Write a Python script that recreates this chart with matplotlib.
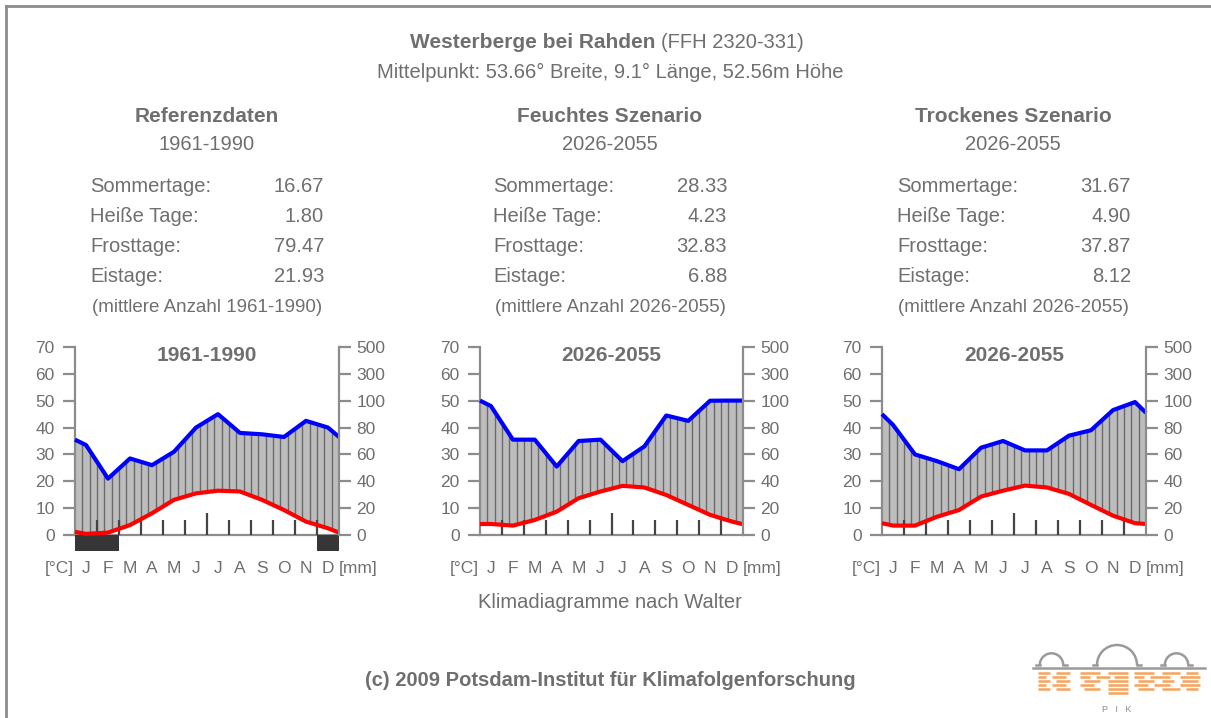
import numpy as np
import matplotlib
matplotlib.use("Agg")
import matplotlib.pyplot as plt
from matplotlib.lines import Line2D
from matplotlib.patches import Arc

plt.rcParams['font.family'] = ['Liberation Sans', 'DejaVu Sans']

# ---- data ----
months = ['J', 'F', 'M', 'A', 'M', 'J', 'J', 'A', 'S', 'O', 'N', 'D']

site = "Westerberge bei Rahden"
site_code = "(FFH 2320-331)"
subtitle = "Mittelpunkt: 53.66° Breite, 9.1° Länge, 52.56m Höhe"

col_heads = ["Referenzdaten", "Feuchtes Szenario", "Trockenes Szenario"]
col_periods = ["1961-1990", "2026-2055", "2026-2055"]
stat_names = ["Sommertage:", "Heiße Tage:", "Frosttage:", "Eistage:"]
stat_ref = ["16.67", "1.80", "79.47", "21.93"]
stat_wet = ["28.33", "4.23", "32.83", "6.88"]
stat_dry = ["31.67", "4.90", "37.87", "8.12"]

# monthly mean temperature (°C), plus values at the Jan / Dec edges
ref_temp = [0.4, 0.9, 3.7, 8.1, 13.1, 15.5, 16.5, 16.2, 13.1, 9.3, 5.0, 2.5]
ref_temp_edges = [1.2, 0.9]
wet_temp = [4.1, 3.5, 5.6, 8.7, 13.7, 16.2, 18.3, 17.7, 14.9, 11.2, 7.5, 5.0]
wet_temp_edges = [4.1, 4.0]
dry_temp = [3.5, 3.5, 6.8, 9.3, 14.3, 16.5, 18.4, 17.7, 15.3, 11.2, 7.2, 4.4]
dry_temp_edges = [4.4, 4.1]

# monthly precipitation (mm), plus edge values
ref_prec = [67, 42, 57, 52, 62, 80, 90, 76, 75, 73, 85, 80]
ref_prec_edges = [71, 73]
wet_prec = [96, 71, 71, 51, 70, 71, 55, 66, 89, 85, 100, 101]
wet_prec_edges = [101, 101]
dry_prec = [82, 60, 55, 49, 65, 70, 63, 63, 74, 78, 93, 99]
dry_prec_edges = [90, 91]

# months with frost (dark bar below the axis)
ref_frost = [1, 1, 0, 0, 0, 0, 0, 0, 0, 0, 0, 1]
wet_frost = [0] * 12
dry_frost = [0] * 12

temp_ticks = [0, 10, 20, 30, 40, 50, 60, 70]
prec_labels = ['0', '20', '40', '60', '80', '100', '300', '500']

W, H = 1211, 718
TXT = '#6f6f6f'
AX = '#8c8c8c'


def prec_to_scale(mm):
    # Walter scale: 10 °C = 20 mm up to 100 mm, then 10 °C = 200 mm
    mm = np.asarray(mm, dtype=float)
    return np.where(mm <= 100, mm / 2.0, 50 + (mm - 100) / 20.0)


def ftext(x, y, s, **kw):
    kw.setdefault('color', TXT)
    kw.setdefault('va', 'center')
    kw.setdefault('fontsize', 14.5)
    fig.text(x / W, 1 - y / H, s, **kw)


def walter(left, right, title, temp, temp_e, prec, prec_e, frost):
    ax = fig.add_axes([left / W, 1 - 535 / H, (right - left) / W, 188 / H])
    x = np.r_[0, np.arange(12) + 0.5, 12]
    t = np.r_[temp_e[0], temp, temp_e[1]]
    p = prec_to_scale(np.r_[prec_e[0], prec, prec_e[1]])

    poly = ax.fill_between(x, t, p, where=p >= t, interpolate=True,
                           color='#bdbdbd', lw=0, zorder=1)
    hatch = ax.vlines(np.arange(1, 36) / 3.0, 0, 70, color='#6a6a6a',
                      lw=1.0, zorder=2)
    hatch.set_clip_path(poly.get_paths()[0], ax.transData)

    # month boundary marks
    bh = [5.6] * 11
    bh[5] = 8.2
    ax.vlines(np.arange(1, 12), 0, bh, color='#444444', lw=1.6, zorder=3)

    # frost months
    fx = [i + 0.5 for i in range(12) if frost[i]]
    if fx:
        ax.bar(fx, -6, width=1.0, bottom=0, color='#363636', lw=0,
               clip_on=False, zorder=3)

    ax.plot(x, t, color='#ff0000', lw=3.0, clip_on=False, zorder=5,
            solid_capstyle='butt')
    ax.plot(x, p, color='#0000ff', lw=3.0, clip_on=False, zorder=6,
            solid_capstyle='butt')

    ax.set_xlim(0, 12)
    ax.set_ylim(0, 70)
    for s in ['top', 'right']:
        ax.spines[s].set_visible(False)
    for s in ['left', 'bottom']:
        ax.spines[s].set_color(AX)
        ax.spines[s].set_linewidth(1.6)
    ax.set_yticks(temp_ticks)
    ax.tick_params(axis='y', colors=AX, labelcolor=TXT, length=8.5,
                   width=1.6, pad=6, labelsize=12.5)
    ax.set_xticks(np.arange(12) + 0.5, months)
    ax.tick_params(axis='x', length=0, pad=19, labelcolor=TXT, labelsize=12.5)
    ax.text(-0.7, -12.4, '[°C]', ha='center', va='center', color=TXT,
            fontsize=12.5)
    ax.text(12.85, -12.4, '[mm]', ha='center', va='center', color=TXT,
            fontsize=12.5)
    ax.text(6, 67, title, ha='center', va='center', color=TXT,
            fontsize=15, fontweight='bold')

    ax2 = ax.twinx()
    ax2.set_ylim(0, 70)
    for s in ['top', 'left', 'bottom']:
        ax2.spines[s].set_visible(False)
    ax2.spines['right'].set_color(AX)
    ax2.spines['right'].set_linewidth(1.6)
    ax2.set_yticks(temp_ticks, prec_labels)
    ax2.tick_params(axis='y', colors=AX, labelcolor=TXT, length=8.5,
                    width=1.6, pad=4, labelsize=12.5)
    return ax


fig = plt.figure(figsize=(W / 100, H / 100), dpi=100)
fig.patch.set_facecolor('white')

# frame lines at top and left
fig.add_artist(Line2D([5.5 / W, 5.5 / W], [0, 1 - 6 / H], color=AX, lw=2))
fig.add_artist(Line2D([5.5 / W, 1], [1 - 6 / H, 1 - 6 / H], color=AX, lw=2))

ftext(655, 43, site, ha='right', fontsize=15, fontweight='bold')
ftext(661, 43, site_code, ha='left')
ftext(610, 72, subtitle, ha='center')

centers = [207, 610, 1013]
lefts = [90, 493, 897]
rights = [324, 727, 1131]
stats = [stat_ref, stat_wet, stat_dry]
for c, l, r, head, per, vals in zip(centers, lefts, rights, col_heads,
                                     col_periods, stats):
    ftext(c, 116, head, ha='center', fontsize=15, fontweight='bold')
    ftext(c, 145, per, ha='center')
    for k, (nm, v) in enumerate(zip(stat_names, vals)):
        ftext(l, 187 + 30 * k, nm, ha='left')
        ftext(r, 187 + 30 * k, v, ha='right')
    ftext(c, 307, "(mittlere Anzahl %s)" % per, ha='center', fontsize=13.5)

walter(75, 339, col_periods[0], ref_temp, ref_temp_edges, ref_prec,
       ref_prec_edges, ref_frost)
walter(480, 743, col_periods[1], wet_temp, wet_temp_edges, wet_prec,
       wet_prec_edges, wet_frost)
walter(882, 1146, col_periods[2], dry_temp, dry_temp_edges, dry_prec,
       dry_prec_edges, dry_frost)

ftext(610, 603, "Klimadiagramme nach Walter", ha='center')
ftext(610, 681, "(c) 2009 Potsdam-Institut für Klimafolgenforschung",
      ha='center', fontsize=14.5, fontweight='bold')

# PIK logo (pixel coordinates inside a small axes)
lg = fig.add_axes([1030 / W, 1 - 718 / H, 180 / W, 78 / H])
lg.set_xlim(0, 180)
lg.set_ylim(78, 0)
lg.axis('off')
lg.plot([3, 175], [28, 28], color='#9a9a9a', lw=1.8)
for cx, r in [(21.5, 11.7), (87, 20), (146.5, 11.7)]:
    lg.add_patch(Arc((cx, 25), 2 * r, 2 * r, theta1=180, theta2=360,
                     color='#9a9a9a', lw=1.8))
    lg.plot([cx - r - 4, cx - r], [25, 25], color='#9a9a9a', lw=1.8)
    lg.plot([cx + r, cx + r + 4], [25, 25], color='#9a9a9a', lw=1.8)
orange = '#f7a35c'
rows = [
    [(8, 20), (26, 40), (50, 70), (78, 98), (104, 124), (132, 150), (156, 168)],
    [(8, 16), (22, 36), (50, 60), (66, 80), (84, 98), (104, 114), (120, 140), (150, 170)],
    [(8, 20), (26, 40), (54, 70), (78, 98), (108, 124), (132, 144), (152, 168)],
    [(8, 16), (22, 36), (50, 64), (78, 98), (104, 118), (124, 140), (150, 170)],
    [(8, 20), (26, 40), (54, 70), (78, 98), (108, 124), (132, 150), (156, 168)],
    [(78, 98)],
]
for j, segs in enumerate(rows):
    y = 33 + 4 * j
    for a, b in segs:
        lg.plot([a, b], [y, y], color=orange, lw=1.8, solid_capstyle='butt')
lg.text(87, 70, "P   I   K", ha='center', va='center', color='#8a8a8a',
        fontsize=6.5)

fig.savefig('out.png', dpi=100)
